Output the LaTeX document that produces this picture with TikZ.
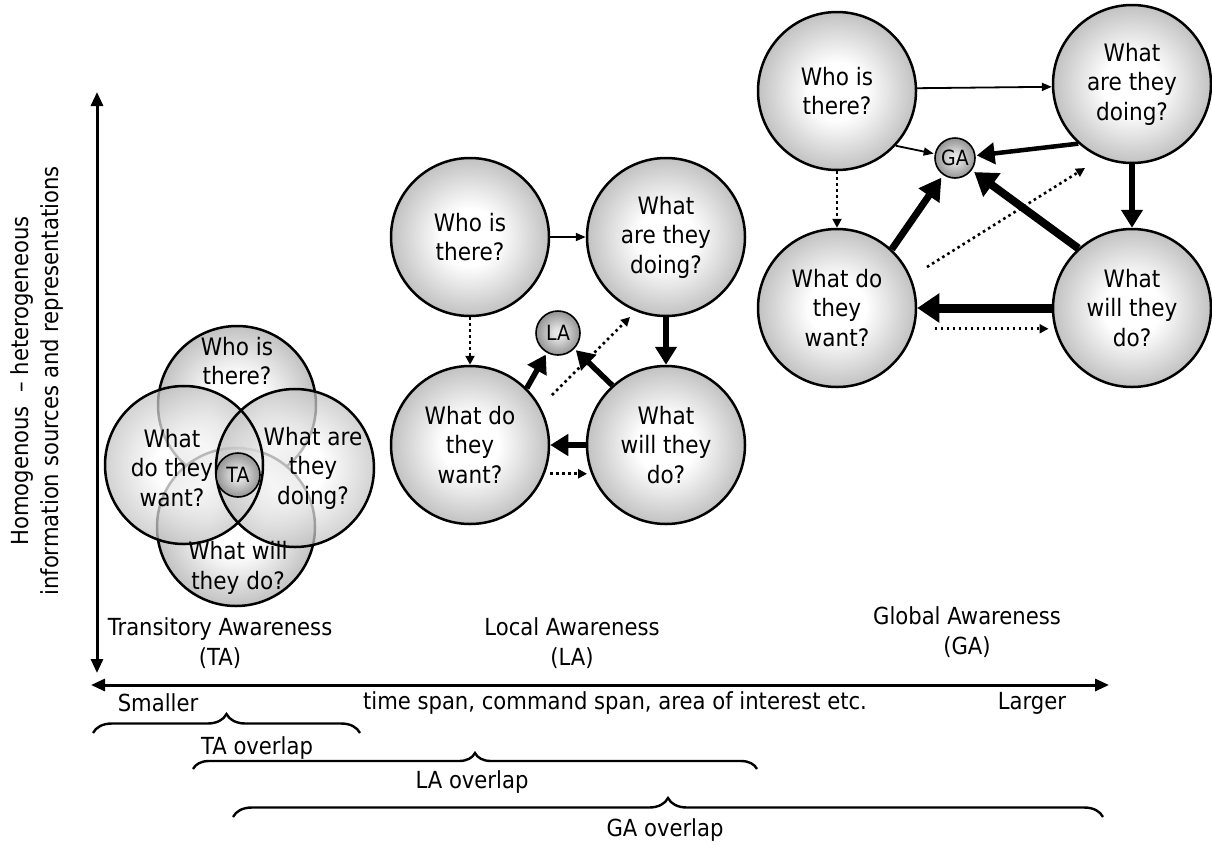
\documentclass[tikz,border=0pt]{standalone}
\usepackage{fontspec}
\setmainfont{DejaVu Sans}[FakeStretch=0.9]
\usetikzlibrary{arrows.meta,decorations.pathreplacing,calc}

% soft white-centred fill for the question circles and the small hubs
\pgfdeclareradialshading{qball}{\pgfpoint{0bp}{0bp}}{%
  color(0bp)=(white); color(9bp)=(white); color(25bp)=(black!24); color(50bp)=(black!24)}
\pgfdeclareradialshading{hubball}{\pgfpoint{0bp}{0bp}}{%
  color(0bp)=(black!8); color(6bp)=(black!12); color(25bp)=(black!42); color(50bp)=(black!42)}

\begin{document}
\begin{tikzpicture}[x=1pt,y=-1pt,
  lbl/.style={font=\fontsize{23.5}{30}\selectfont, align=center, inner sep=0},
  qtext/.style={font=\fontsize{24}{29.5}\selectfont, align=center, inner sep=0},
  qcirc/.style={circle, minimum size=158pt, inner sep=0, align=center,
    font=\fontsize{24}{29.5}\selectfont, shading=qball},
  qnode/.style={qcirc, draw, line width=2.5pt},
  ring/.style={line width=2.5pt},
  badge/.style={circle, draw, line width=1.6pt, minimum size=44pt, inner sep=0,
    shading=hubball, font=\fontsize{21}{21}\selectfont},
  thinarr/.style={line width=1.8pt, -{Triangle[length=10pt,width=8pt]}},
  dotarr/.style={line width=2.6pt, dash pattern=on 2.6pt off 3.4pt,
    -{Triangle[length=9pt,width=9pt]}},
  thickarr/.style={line width=5.5pt, -{Triangle[length=18pt,width=21pt]}},
  heavyarr/.style={line width=8pt, -{Triangle[length=22pt,width=28pt]}},
  axis/.style={line width=3pt,
    {Triangle[length=14pt,width=12pt]}-{Triangle[length=14pt,width=12pt]}},
  brc/.style={decorate, line width=2.4pt, decoration={brace, amplitude=#1}},
]
% canvas
\fill[white] (0,0) rectangle (1212,844);
\useasboundingbox (0,0) rectangle (1212,844);

% ---------- axes ----------
\coordinate (vtop) at (97,92);
\coordinate (vbot) at (97,673);
\coordinate (hleft) at (91,685);
\coordinate (hright) at (1109,685);
\draw[axis] (vtop) -- (vbot);
\draw[axis] (hleft) -- (hright);
\node[lbl, rotate=90] (vlabel) at (37,381)
  {Homogenous~ -- heterogeneous\\information sources and representations};

% ---------- transitory awareness (overlapping circles) ----------
\node[qnode] (twho) at (237,405) {};
\node[qnode] (twill) at (236,527) {};
\node[qcirc, fill opacity=0.72] (twant) at (184,465) {};
\node[qcirc, fill opacity=0.72] (tdoing) at (295,468) {};
\draw[ring] (twant.center) circle[radius=79];
\draw[ring] (tdoing.center) circle[radius=79];
\node[qtext] (twhoT) at (237,361) {Who is\\there?};
\node[qtext] (twantT) at (172,468) {What\\do they\\want?};
\node[qtext] (tdoingT) at (313,468) {What are\\they\\doing?};
\node[qtext] (twillT) at (238,568) {What will\\they do?};
\node[badge] (TA) at (238,475) {TA};

% ---------- local awareness ----------
\node[qnode] (lwho) at (470,237) {Who is\\there?};
\node[qnode] (ldoing) at (666,237) {What\\are they\\doing?};
\node[qnode] (lwant) at (470,445) {What do\\they\\want?};
\node[qnode] (lwill) at (666,445) {What\\will they\\do?};
\node[badge] (LA) at (558,333) {LA};
\coordinate (ldA) at (552,395);
\coordinate (ldB) at (630,317);

\draw[thinarr] (lwho) -- (ldoing);
\draw[dotarr] (lwho) -- (lwant);
\draw[thickarr] (ldoing) -- (lwill);
\draw[thickarr] (lwill) -- (lwant);
\draw[dotarr, shorten <=5pt, shorten >=4pt] (lwant.-21) -- (lwill.201);
\draw[thickarr, shorten >=2pt] (lwant.45) -- (LA);
\draw[thickarr, shorten >=2pt] (lwill.132) -- (LA);
\draw[dotarr] (ldA) -- (ldB);

% ---------- global awareness ----------
\node[qnode] (gwho) at (837,91) {Who is\\there?};
\node[qnode] (gdoing) at (1132,84) {What\\are they\\doing?};
\node[qnode] (gwant) at (837,308) {What do\\they\\want?};
\node[qnode] (gwill) at (1132,308) {What\\will they\\do?};
\node[badge, minimum size=40pt] (GA) at (955,158) {GA};
\coordinate (gdA) at (927,267);
\coordinate (gdB) at (1085,168);

\draw[thinarr] (gwho.2) -- (gdoing.182);
\draw[thinarr, shorten >=1pt] (gwho.-43) -- (GA);
\draw[thickarr, line width=4.5pt, shorten >=1pt] (gdoing.228) -- (GA);
\draw[dotarr] (gwho) -- (gwant);
\draw[thickarr] (gdoing) -- (gwill);
\draw[thickarr, line width=7pt, -{Triangle[length=22pt,width=24pt]}, shorten >=3pt] (gwant.47) -- (GA);
\draw[heavyarr, shorten >=3pt] (gwill.132) -- (GA);
\draw[dotarr] (gdA) -- (gdB);
\draw[heavyarr, line width=9pt] (gwill) -- (gwant);
\draw[dotarr, shorten <=20pt, shorten >=6pt] (gwant.-15) -- (gwill.195);

% ---------- labels ----------
\node[lbl] (taLabel) at (220,643) {Transitory Awareness\\(TA)};
\node[lbl] (laLabel) at (572,643) {Local Awareness\\(LA)};
\node[lbl] (gaLabel) at (967,632) {Global Awareness\\(GA)};
\node[lbl] (smaller) at (158,703) {Smaller};
\node[lbl] (span) at (615,703) {time span, command span, area of interest etc.};
\node[lbl] (larger) at (1032,703) {Larger};

% ---------- overlap braces ----------
\coordinate (taL) at (93,733);
\coordinate (taR) at (360,733);
\coordinate (laL) at (193,769);
\coordinate (laR) at (757,769);
\coordinate (gaL) at (233,817);
\coordinate (gaR) at (1103,817);
\draw[brc=19pt] (taL) -- (taR);
\draw[brc=16pt] (laL) -- (laR);
\draw[brc=19pt] (gaL) -- (gaR);
\node[lbl] (taOver) at (257,748) {TA overlap};
\node[lbl] (laOver) at (472,782) {LA overlap};
\node[lbl] (gaOver) at (665,830) {GA overlap};
\end{tikzpicture}
\end{document}
